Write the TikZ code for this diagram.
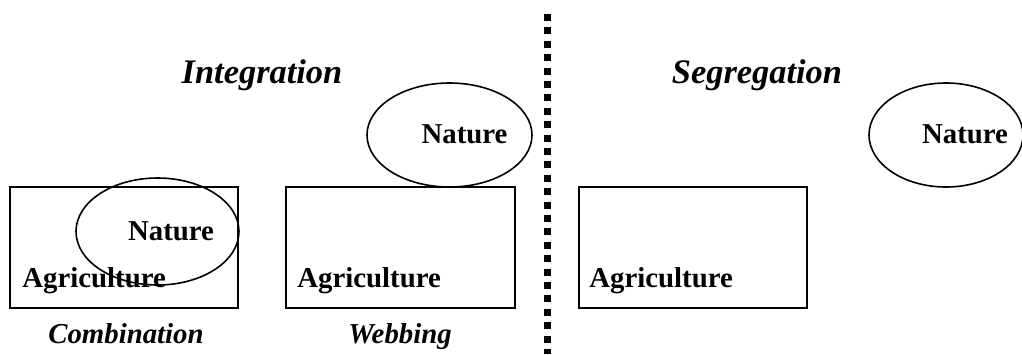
\documentclass[tikz,border=0pt]{standalone}
\usepackage{fontspec}
\setmainfont{Liberation Serif}
\usepackage{tikz}

\tikzset{
  title/.style={font=\fontsize{17.2}{20}\selectfont\bfseries\itshape, anchor=base, inner sep=0pt},
  caption/.style={font=\fontsize{14.4}{17}\selectfont\bfseries\itshape, anchor=base, inner sep=0pt},
  label/.style={font=\fontsize{14.4}{17}\selectfont\bfseries, anchor=base, inner sep=0pt},
  field/.style={line width=1pt},
  zone/.style={line width=0.8pt},
  divider/.style={line width=3.5pt, dash pattern=on 3.5pt off 3.2pt}
}

\begin{document}
\begin{tikzpicture}[x=0.5pt, y=-0.5pt]
        \useasboundingbox (0,0) rectangle (1022,354);

        % Combination
        \draw[field] (10,187) rectangle (238,308);
        \draw[zone] (157.5,231.5) ellipse [x radius=81.5, y radius=53.5];
        \node[label] (nat1) at (171,240) {Nature};
        \node[label, anchor=base west] (agr1) at (22,287) {Agriculture};
        \node[caption] (comb) at (126,343) {Combination};

        % Webbing
        \draw[field] (286,187) rectangle (515,308);
        \draw[zone] (449.5,135) ellipse [x radius=82.5, y radius=52];
        \node[label] (nat2) at (464.5,143) {Nature};
        \node[label, anchor=base west] (agr2) at (297,287) {Agriculture};
        \node[caption] (web) at (400,343) {Webbing};

        \node[title] (integ) at (262,83) {Integration};

        % Dividing line
        \coordinate (divtop) at (547,14);
        \coordinate (divbot) at (547,354);
        \draw[divider] (divtop) -- (divbot);

        % Segregation
        \node[title] (segr) at (757,83) {Segregation};
        \draw[field] (579,187) rectangle (807,308);
        \draw[zone] (946,135) ellipse [x radius=77, y radius=52];
        \node[label] (nat3) at (965,143) {Nature};
        \node[label, anchor=base west] (agr3) at (589,287) {Agriculture};
    \end{tikzpicture}
\end{document}
